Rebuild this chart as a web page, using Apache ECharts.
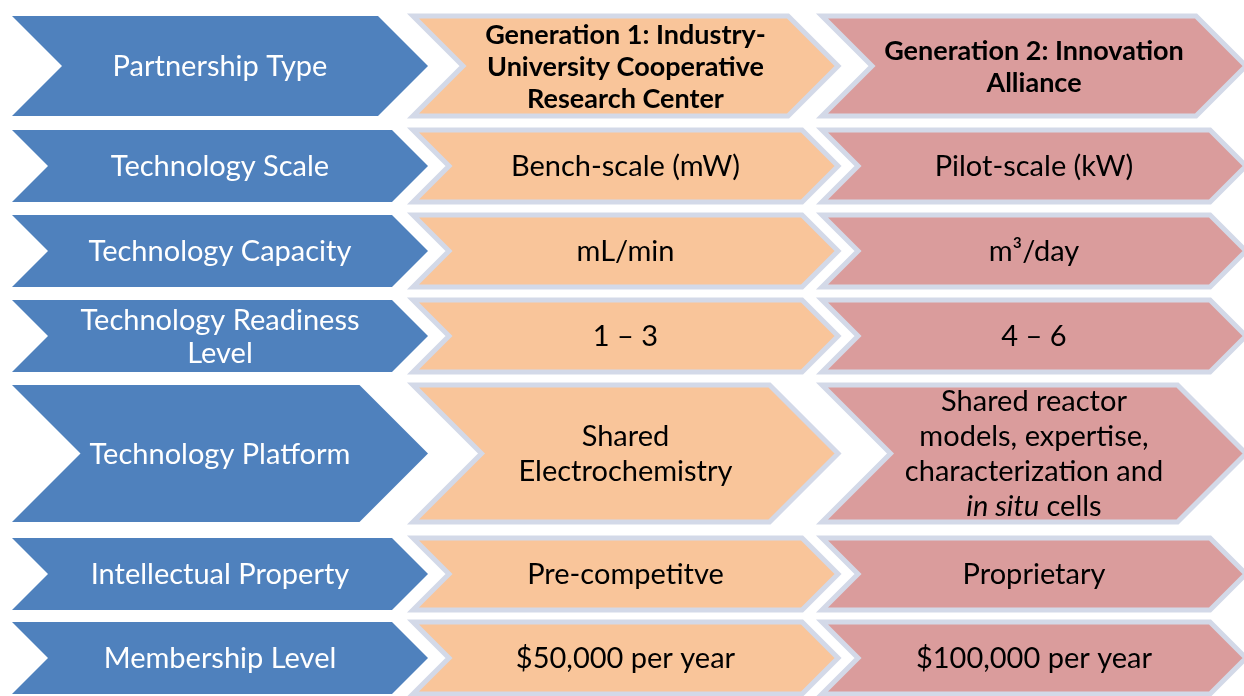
<!DOCTYPE html>
<html>
<head>
<meta charset="utf-8">
<title>Partnership generations</title>
<script src="https://cdn.jsdelivr.net/npm/echarts@6/dist/echarts.min.js"></script>
<style>
  html, body { margin: 0; padding: 0; background: #fff; }
  #main { width: 1244px; height: 696px; }
</style>
</head>
<body>
<div id="main"></div>
<script>
// 行标题（蓝色列）
var rowLabels = [
  'Partnership Type',
  'Technology Scale',
  'Technology Capacity',
  'Technology Readiness\nLevel',
  'Technology Platform',
  'Intellectual Property',
  'Membership Level'
];
// 第一代
var gen1 = [
  '{b|Generation 1: Industry-}\n{b|University Cooperative}\n{b|Research Center}',
  'Bench-scale (mW)',
  'mL/min',
  '1 \u2013 3',
  'Shared\nElectrochemistry',
  'Pre-competitve',
  '$50,000 per year'
];
// 第二代
var gen2 = [
  '{b|Generation 2: Innovation}\n{b|Alliance}',
  'Pilot-scale (kW)',
  'm\u00b3/day',
  '4 \u2013 6',
  'Shared reactor\nmodels, expertise,\ncharacterization and\n{i|in situ} cells',
  'Proprietary',
  '$100,000 per year'
];

// 布局：每行的上下边界（像素单位，y轴从上往下）
var rowTop = [16, 130, 215, 300, 385, 538, 622];
var rowBottom = [116, 202, 287, 372, 522, 610, 694];

var columns = [
  { texts: rowLabels, left: 12, tip: 428, color: '#4F81BD', textColor: '#fff', border: false },
  { texts: gen1, left: 413, tip: 838, color: '#F9C59A', textColor: '#000', border: true },
  { texts: gen2, left: 822, tip: 1246, color: '#DA9C9C', textColor: '#000', border: true }
];

var fontFamily = 'Lato, "Open Sans", sans-serif';

function makeRender(col) {
  return function (params, api) {
    var i = params.dataIndex;
    var p0 = api.coord([col.left, rowTop[i]]);
    var p1 = api.coord([col.tip, rowBottom[i]]);
    var top = p0[1], bottom = p1[1], left = p0[0], tip = p1[0];
    var h = bottom - top, d = h / 2, mid = top + h / 2;
    var pts = [
      [left, top], [tip - d, top], [tip, mid],
      [tip - d, bottom], [left, bottom], [left + d, mid]
    ];
    var lh = i === 0 ? 32 : (i === 4 && col.border ? 35 : 33);
    return {
      type: 'group',
      children: [
        {
          type: 'polygon',
          shape: { points: pts },
          style: {
            fill: col.color,
            stroke: col.border ? '#D3D9E8' : null,
            lineWidth: col.border ? 5 : 0,
            lineJoin: 'miter'
          }
        },
        {
          type: 'text',
          style: {
            text: col.texts[i],
            x: (left + tip) / 2,
            y: mid + 1,
            align: 'center',
            verticalAlign: 'middle',
            fill: col.textColor,
            fontFamily: fontFamily,
            fontSize: 29,
            lineHeight: lh,
            rich: {
              b: { fontWeight: 'bold', fontSize: 27, fontFamily: fontFamily, lineHeight: 32, fill: col.textColor },
              i: { fontStyle: 'italic', fontSize: 29, fontFamily: fontFamily, fill: col.textColor }
            }
          }
        }
      ]
    };
  };
}

var chart = echarts.init(document.getElementById('main'));
var option = {
  animation: false,
  backgroundColor: '#fff',
  grid: { left: 0, right: 0, top: 0, bottom: 0 },
  xAxis: { type: 'value', min: 0, max: 1244, show: false },
  yAxis: { type: 'value', min: 0, max: 696, inverse: true, show: false },
  series: columns.map(function (col, k) {
    return {
      type: 'custom',
      name: 'col' + k,
      renderItem: makeRender(col),
      data: rowLabels.map(function (t, i) { return [i, i]; }),
      clip: false
    };
  })
};
chart.setOption(option);
</script>
</body>
</html>
